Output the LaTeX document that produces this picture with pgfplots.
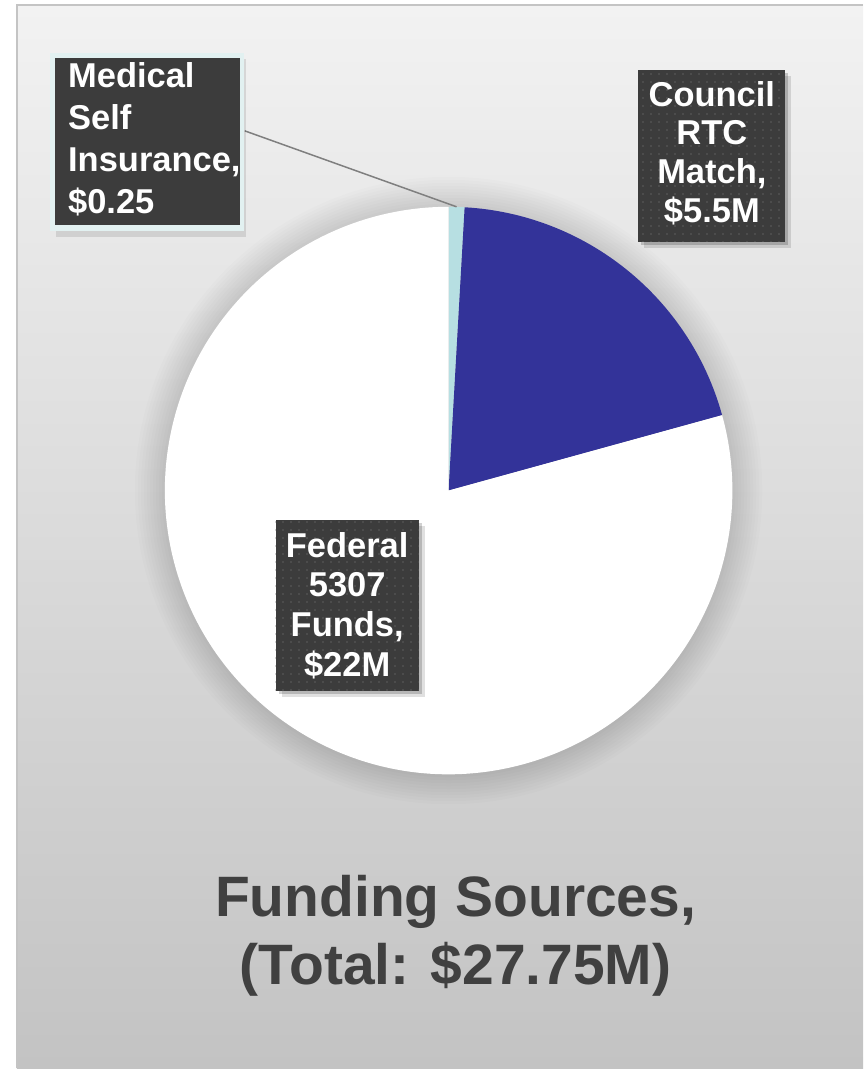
\documentclass[border=0pt]{standalone}
\usepackage{pgfplots}
\pgfplotsset{compat=1.18}
\usepackage{pgfplotstable}
\usepackage{fontspec}
\setmainfont{Liberation Sans}
\usetikzlibrary{patterns.meta}

\definecolor{slicecyan}{HTML}{B7DFE2}
\definecolor{sliceblue}{HTML}{333399}
\definecolor{boxgray}{HTML}{3C3C3C}
\definecolor{dotgray}{HTML}{525252}
\definecolor{titlegray}{HTML}{404040}
\definecolor{bgtop}{HTML}{F2F2F2}
\definecolor{bgbot}{HTML}{C3C3C3}
\definecolor{borderg}{HTML}{C4C4C4}
\definecolor{leadgray}{HTML}{7F7F7F}
\definecolor{medborder}{HTML}{E2F1F1}

\tikzdeclarepattern{
  name=bigdots, type=uncolored,
  bottom left={(0pt,0pt)}, top right={(8pt,8pt)},
  tile size={(8pt,8pt)},
  code={\pgfpathcircle{\pgfpoint{4pt}{4pt}}{1.1pt}\pgfusepath{fill}}
}

\newcommand\lab{\fontsize{34.5}{40}\selectfont\bfseries}

\begin{document}
\begin{tikzpicture}
\pgfplotstableread{
label value
Medical 0.25
Council 5.5
Federal 22
}\piedata
\pgfplotstablegetelem{0}{value}\of\piedata \let\vA\pgfplotsretval
\pgfplotstablegetelem{1}{value}\of\piedata \let\vB\pgfplotsretval
\pgfplotstablegetelem{2}{value}\of\piedata \let\vC\pgfplotsretval
\pgfmathsetmacro\tot{\vA+\vB+\vC}
\pgfmathsetmacro\aA{90-360*\vA/\tot}
\pgfmathsetmacro\aB{\aA-360*\vB/\tot}
\pgfmathsetmacro\aC{\aB-360*\vC/\tot}
\begin{axis}[
    x=1pt, y=1pt,
    xmin=0, xmax=864, ymin=0, ymax=1069,
    scale only axis,
    hide axis,
    clip=false,
  ]
  % background panel
  \fill[white] (axis cs:0,0) rectangle (axis cs:864,1069);
  \shade[top color=bgtop, bottom color=bgbot] (axis cs:17,0) rectangle (axis cs:864,1064);
  \draw[borderg, line width=2pt] (axis cs:17,0) -- (axis cs:17,1064) -- (axis cs:864,1064);

  % soft halo round the pie
  \pgfplotsinvokeforeach{1,...,10}{
    \fill[black, opacity=0.013] (axis cs:449,578) circle[radius={284pt+3pt*#1}];
  }

  % slices, clockwise from the top
  \fill[slicecyan] (axis cs:449,578) -- ++(90:284pt) arc[start angle=90, end angle=\aA, radius=284pt] -- cycle;
  \fill[sliceblue] (axis cs:449,578) -- ++(\aA:284pt) arc[start angle=\aA, end angle=\aB, radius=284pt] -- cycle;
  \fill[white] (axis cs:449,578) -- ++(\aB:284pt) arc[start angle=\aB, end angle=\aC, radius=284pt] -- cycle;

  % leader line
  \draw[leadgray, line width=1.5pt] (axis cs:245,938) -- (axis cs:457,862);

  % Medical label
  \fill[black, opacity=0.10] (axis cs:56,832) rectangle (axis cs:246,1010);
  \fill[medborder] (axis cs:50,838) rectangle (axis cs:244,1016);
  \fill[boxgray] (axis cs:55,844) rectangle (axis cs:240,1011);
  \node[anchor=base west, font=\lab, text=white, inner sep=0pt] at (axis cs:68,981) {Medical};
  \node[anchor=base west, font=\lab, text=white, inner sep=0pt] at (axis cs:68,939) {Self};
  \node[anchor=base west, font=\lab, text=white, inner sep=0pt] at (axis cs:68,897) {Insurance,};
  \node[anchor=base west, font=\lab, text=white, inner sep=0pt] at (axis cs:68,855) {\$0.25};

  % Council label
  \fill[black, opacity=0.12] (axis cs:645,821) rectangle (axis cs:792,993);
  \fill[black, opacity=0.18] (axis cs:642,824) rectangle (axis cs:789,996);
  \fill[boxgray] (axis cs:639,827) rectangle (axis cs:786,999);
  \fill[pattern=bigdots, pattern color=dotgray] (axis cs:639,827) rectangle (axis cs:786,999);
  \node[anchor=base, font=\lab, text=white, inner sep=0pt] at (axis cs:712.5,962) {Council};
  \node[anchor=base, font=\lab, text=white, inner sep=0pt] at (axis cs:712.5,924) {RTC};
  \node[anchor=base, font=\lab, text=white, inner sep=0pt] at (axis cs:712.5,885) {Match,};
  \node[anchor=base, font=\lab, text=white, inner sep=0pt] at (axis cs:712.5,846) {\$5.5M};

  % Federal label
  \fill[black, opacity=0.12] (axis cs:282,371) rectangle (axis cs:425,543);
  \fill[black, opacity=0.18] (axis cs:279,374) rectangle (axis cs:422,546);
  \fill[boxgray] (axis cs:276,377) rectangle (axis cs:419,549);
  \fill[pattern=bigdots, pattern color=dotgray] (axis cs:276,377) rectangle (axis cs:419,549);
  \node[anchor=base, font=\lab, text=white, inner sep=0pt] at (axis cs:347.5,511) {Federal};
  \node[anchor=base, font=\lab, text=white, inner sep=0pt] at (axis cs:347.5,472) {5307};
  \node[anchor=base, font=\lab, text=white, inner sep=0pt] at (axis cs:347.5,432) {Funds,};
  \node[anchor=base, font=\lab, text=white, inner sep=0pt] at (axis cs:347.5,392) {\$22M};

  % title
  \node[anchor=base, font=\fontsize{57}{68}\selectfont\bfseries, text=titlegray, inner sep=0pt] at (axis cs:456,152) {Funding Sources,};
  \node[anchor=base, font=\fontsize{57}{68}\selectfont\bfseries, text=titlegray, inner sep=0pt] at (axis cs:456,84) {(Total: \$27.75M)};
\end{axis}
\end{tikzpicture}
\end{document}
